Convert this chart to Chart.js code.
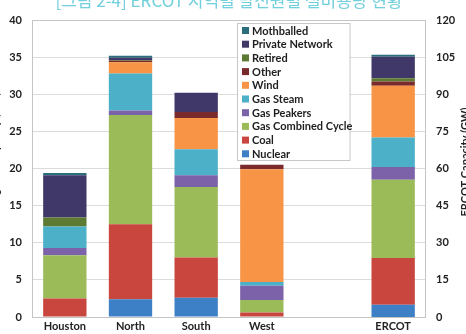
<!DOCTYPE html>
<html>
<head>
<meta charset="utf-8">
<script src="https://cdn.jsdelivr.net/npm/chart.js@4/dist/chart.umd.min.js"></script>
<style>
html,body{margin:0;padding:0;background:#fff;}
#wrap{width:466px;height:334px;position:relative;}
</style>
</head>
<body>
<div id="wrap"><canvas id="c" width="466" height="334"></canvas></div>
<script>
// ---- data ----
const categories = ['Houston', 'North', 'South', 'West', '', 'ERCOT'];
const seriesNames = ['Nuclear', 'Coal', 'Gas Combined Cycle', 'Gas Peakers', 'Gas Steam', 'Wind', 'Other', 'Retired', 'Private Network', 'Mothballed'];
// regional values (GW): Houston, North, South, West
const nuclear    = [0,   2.4,  2.6, 0];
const coal       = [2.5, 10.1, 5.4, 0.6];
const gasCC      = [5.8, 14.7, 9.5, 1.7];
const gasPeakers = [1.0, 0.6,  1.6, 1.9];
const gasSteam   = [2.9, 5.0,  3.5, 0.5];
const wind       = [0,   1.5,  4.2, 15.2];
const other      = [0,   0.2,  0.8, 0.6];
const retired    = [1.2, 0.1,  0,   0];
const privateNet = [5.7, 0.3,  2.6, 0];
const mothballed = [0.3, 0.3,  0,   0];
// ERCOT totals (GW), right axis
const ercot = [4.9, 18.9, 31.7, 5.1, 11.9, 20.9, 1.8, 1.3, 8.7, 0.8];
const leftTicks = [0, 5, 10, 15, 20, 25, 30, 35, 40];
const rightTicks = [0, 15, 30, 45, 60, 75, 90, 105, 120];
const titleText = '[그림 2-4] ERCOT 지역별 발전원별 설비용량 현황';

const colors = ['#3d80c6', '#c9463f', '#9bbb59', '#7c62a8', '#4bb0c8', '#f89446', '#7a2a2a', '#5d7a32', '#3f3868', '#2a6e7c'];
const regional = [nuclear, coal, gasCC, gasPeakers, gasSteam, wind, other, retired, privateNet, mothballed];

const datasets = [];
seriesNames.forEach((name, i) => {
  datasets.push({
    label: name,
    data: regional[i].concat([null, null]),
    backgroundColor: colors[i],
    yAxisID: 'y', stack: 's', borderWidth: 0
  });
});
seriesNames.forEach((name, i) => {
  datasets.push({
    label: name + ' (ERCOT)',
    data: [null, null, null, null, null, ercot[i]],
    backgroundColor: colors[i],
    yAxisID: 'y2', stack: 's', borderWidth: 0
  });
});

const FONT = 'Lato, "Open Sans", sans-serif';

const extras = {
  id: 'extras',
  afterDatasetsDraw(chart) {
    const ctx = chart.ctx;
    const ca = chart.chartArea;
    ctx.save();
    // plot border
    ctx.strokeStyle = '#c4c4c4';
    ctx.lineWidth = 1;
    ctx.strokeRect(Math.round(ca.left) + 0.5, Math.round(ca.top) + 0.5, Math.round(ca.right - ca.left) - 1, Math.round(ca.bottom - ca.top));
    // legend box
    const bx = 237.5, by = 23.5, bw = 112.5, bh = 137;
    ctx.fillStyle = '#ffffff';
    ctx.fillRect(bx, by, bw, bh);
    ctx.strokeStyle = '#c8c8c8';
    ctx.strokeRect(bx, by, bw, bh);
    ctx.font = 'bold 11px ' + FONT;
    ctx.textBaseline = 'middle';
    ctx.textAlign = 'left';
    for (let k = 0; k < seriesNames.length; k++) {
      const i = seriesNames.length - 1 - k;
      const yy = 30.5 + k * 13.7;
      ctx.fillStyle = colors[i];
      ctx.fillRect(242, yy - 3.5, 7, 7);
      ctx.fillStyle = '#1e1e1e';
      ctx.fillText(seriesNames[i], 252, yy + 0.5);
    }
    // title (cut at top)
    ctx.font = '17px "Noto Sans CJK KR", sans-serif';
    ctx.fillStyle = '#72cfdc';
    ctx.textAlign = 'center';
    ctx.textBaseline = 'alphabetic';
    ctx.fillText(titleText, 229, 7);
    // axis titles
    ctx.font = 'bold 11px ' + FONT;
    ctx.fillStyle = '#222';
    ctx.textBaseline = 'middle';
    ctx.save();
    ctx.translate(465, 162);
    ctx.rotate(-Math.PI / 2);
    ctx.fillText('ERCOT Capacity (GW)', 0, 0);
    ctx.restore();
    ctx.save();
    ctx.translate(-5, 150);
    ctx.rotate(-Math.PI / 2);
    ctx.fillText('Regional Capacity (GW)', 0, 0);
    ctx.restore();
    ctx.restore();
  }
};

new Chart(document.getElementById('c'), {
  type: 'bar',
  data: { labels: categories, datasets: datasets },
  options: {
    responsive: false,
    animation: false,
    layout: { padding: { top: 20, left: 0, right: 0, bottom: 0 } },
    plugins: { legend: { display: false }, tooltip: { enabled: false } },
    datasets: { bar: { categoryPercentage: 1.0, barPercentage: 0.66 } },
    scales: {
      x: {
        stacked: true,
        grid: { display: false, drawTicks: false },
        border: { display: false },
        ticks: { color: '#222', font: { family: FONT, size: 11, weight: 'bold' }, padding: 3, maxRotation: 0 },
        afterFit(s) { s.height = 17; }
      },
      y: {
        position: 'left', stacked: true, min: 0, max: 40,
        afterBuildTicks(s) { s.ticks = leftTicks.map(v => ({ value: v })); },
        grid: { color: '#dcdcdc', drawTicks: false },
        border: { display: false },
        ticks: { color: '#222', font: { family: FONT, size: 11, weight: 'bold' }, padding: 10 },
        afterFit(s) { s.width = 32; }
      },
      y2: {
        position: 'right', stacked: true, min: 0, max: 120,
        afterBuildTicks(s) { s.ticks = rightTicks.map(v => ({ value: v })); },
        grid: { display: false, drawTicks: false },
        border: { display: false },
        ticks: { color: '#222', font: { family: FONT, size: 11, weight: 'bold' }, padding: 10 },
        afterFit(s) { s.width = 40; }
      }
    }
  },
  plugins: [extras]
});
</script>
</body>
</html>
